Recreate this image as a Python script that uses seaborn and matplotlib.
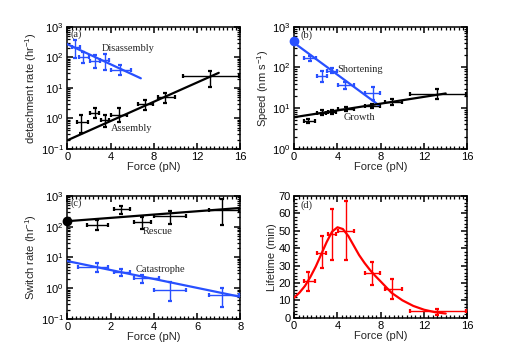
import numpy as np
import matplotlib
matplotlib.use('Agg')
import matplotlib.pyplot as plt
from matplotlib.ticker import AutoMinorLocator, LogLocator, NullFormatter
import seaborn as sns

# - data - #
# force bins (pN): centre, lower and upper edge of the x error bar
f_dis     = [0.75, 1.5, 2.6, 3.45, 4.85]
f_dis_lo  = [0.45, 1.05, 2.15, 3.05, 4.0]
f_dis_hi  = [1.2, 2.0, 3.0, 3.9, 5.85]
f_bin     = [1.3, 2.55, 3.45, 4.8, 7.2, 9.0, 13.2]
f_bin_lo  = [0.92, 2.15, 3.08, 4.03, 6.5, 8.4, 10.7]
f_bin_hi  = [1.9, 2.95, 3.88, 5.5, 7.9, 9.95, 15.9]

# (a) detachment rates (hr^-1)
dis_rate    = [222, 99, 77, 81, 38]
dis_rate_lo = [95, 63, 44, 38, 26]
dis_rate_hi = [370, 152, 118, 128, 56]
asm_rate    = [0.78, 1.46, 0.9, 1.3, 2.9, 4.9, 24]
asm_rate_lo = [0.33, 1.0, 0.53, 0.78, 1.9, 3.1, 10.5]
asm_rate_hi = [1.3, 2.15, 1.3, 2.15, 4.0, 7.0, 36]
dis_fit_x, dis_fit_y = [0, 6.8], [270, 20.5]
asm_fit_x, asm_fit_y = [0, 14], [0.19, 31]

# (b) speeds (nm/s)
shr_f       = [1.45, 2.6, 3.5, 4.7, 7.25]
shr_f_lo    = [0.92, 2.15, 3.05, 4.05, 6.5]
shr_f_hi    = [2.05, 3.05, 3.95, 5.55, 7.9]
shr_speed    = [170, 61, 84, 37, 24]
shr_speed_lo = [145, 45, 73, 30, 16]
shr_speed_hi = [195, 83, 97, 45, 34]
shr_zero = 450
grw_speed    = [4.8, 7.8, 8.0, 9.6, 11.5, 14.3, 22]
grw_speed_lo = [4.3, 6.8, 7.0, 8.5, 10.2, 12.2, 17]
grw_speed_hi = [5.3, 9.0, 9.2, 10.8, 12.8, 16.5, 29]
shr_fit_x, shr_fit_y = [0, 7.8], [400, 12]
grw_fit_x, grw_fit_y = [0, 14], [6.0, 23]

# (c) switch rates (hr^-1)
f_sw     = [1.38, 2.5, 3.46, 4.77, 7.15]
f_sw_lo  = [0.92, 2.15, 3.08, 4.03, 6.54]
f_sw_hi  = [1.88, 2.92, 3.85, 5.5, 7.92]
f_cat_lo = [0.5, 2.15, 3.08, 4.03, 6.54]
f_cat_hi = [1.88, 2.92, 4.25, 5.5, 7.92]
res_rate    = [112, 370, 143, 224, 343]
res_rate_lo = [77, 268, 87, 118, 112]
res_rate_hi = [162, 474, 208, 318, 820]
res_zero = 151
cat_rate    = [4.9, 3.3, 2.1, 0.85, 0.6]
cat_rate_lo = [3.4, 2.5, 1.45, 0.39, 0.25]
cat_rate_hi = [6.4, 4.2, 2.7, 1.55, 1.0]
res_fit_x, res_fit_y = [0, 8], [151, 408]
cat_fit_x, cat_fit_y = [0, 8], [7.6, 0.52]

# (d) lifetime (min)
life    = [21, 37.4, 48, 50, 25.7, 16.5, 3.6]
life_lo = [15.2, 28.6, 33.4, 33.4, 18.6, 10.5, 1.7]
life_hi = [26.3, 47.2, 62.3, 67.1, 32.2, 22.4, 5.2]
curve_x = [0, 0.5, 1, 1.5, 2, 2.5, 3, 3.5, 4, 4.5, 5, 5.5, 6, 6.5, 7, 7.5, 8, 9, 10, 11, 12, 13, 14]
curve_y = [11.5, 14.5, 18.3, 23.5, 29.5, 36.5, 43.5, 49.5, 52.0, 51.0, 47.0, 41.5, 36.0, 31.5, 27.5, 24.0, 20.8, 14.3, 10.0, 6.8, 4.6, 3.2, 2.4]

# - style - #
sns.set_style('ticks', {'xtick.direction': 'in', 'ytick.direction': 'in',
                        'axes.edgecolor': 'black', 'xtick.color': 'black',
                        'ytick.color': 'black'})
plt.rcParams['font.family'] = ['Liberation Sans', 'DejaVu Sans']
plt.rcParams['mathtext.default'] = 'regular'
plt.rcParams['font.size'] = 8
plt.rcParams['axes.linewidth'] = 1.1

BLUE = '#2850ff'
RED = '#ff0000'
SERIF = 'Liberation Serif'

fig = plt.figure(figsize=(5.17, 3.57), dpi=100)
ax_a = fig.add_axes([0.13, 0.583, 0.335, 0.342])
ax_b = fig.add_axes([0.569, 0.583, 0.335, 0.342])
ax_c = fig.add_axes([0.13, 0.107, 0.335, 0.344])
ax_d = fig.add_axes([0.569, 0.110, 0.335, 0.341])


def ebar(ax, x, xlo, xhi, y, ylo, yhi, color):
    x = np.array(x); y = np.array(y)
    xerr = [x - np.array(xlo), np.array(xhi) - x]
    yerr = [y - np.array(ylo), np.array(yhi) - y]
    ax.errorbar(x, y, xerr=xerr, yerr=yerr, fmt='none', ecolor=color,
                elinewidth=1.0, capsize=1.3, capthick=1.6, zorder=3)


def fitline(ax, x, y, color):
    sns.lineplot(x=x, y=y, ax=ax, color=color, linewidth=1.6, sort=False, zorder=4)


def style(ax, xmax, ylog=True):
    ax.set_xlim(0, xmax)
    if ylog:
        ax.set_yscale('log')
        ax.yaxis.set_minor_locator(LogLocator(base=10, subs=np.arange(2, 10)))
        ax.yaxis.set_minor_formatter(NullFormatter())
    ax.xaxis.set_minor_locator(AutoMinorLocator(10))
    ax.set_xlabel('Force (pN)', fontsize=8, labelpad=0)


def ticks(ax):
    ax.tick_params(which='both', direction='in', top=True, right=True, color='black')
    ax.tick_params(which='major', length=4.5, width=1.1, labelsize=8, pad=2.5)
    ax.tick_params(which='minor', length=2.2, width=0.9)


# (a)
ebar(ax_a, f_dis, f_dis_lo, f_dis_hi, dis_rate, dis_rate_lo, dis_rate_hi, BLUE)
ebar(ax_a, f_bin, f_bin_lo, f_bin_hi, asm_rate, asm_rate_lo, asm_rate_hi, 'black')
fitline(ax_a, dis_fit_x, dis_fit_y, BLUE)
fitline(ax_a, asm_fit_x, asm_fit_y, 'black')
ax_a.set_xticks([0, 4, 8, 12, 16])
style(ax_a, 16)
ax_a.set_ylim(0.1, 1000)
ax_a.set_ylabel('detachment rate (hr$^{-1}$)', fontsize=8, labelpad=1)
ax_a.text(0.3, 560, '(a)', family=SERIF, fontsize=7.5, va='center')
ax_a.text(3.2, 200, 'Disassembly', family=SERIF, fontsize=7.5, va='center')
ax_a.text(4.0, 0.45, 'Assembly', family=SERIF, fontsize=7.5, va='center')

# (b)
ebar(ax_b, shr_f, shr_f_lo, shr_f_hi, shr_speed, shr_speed_lo, shr_speed_hi, BLUE)
ebar(ax_b, f_bin, f_bin_lo, f_bin_hi, grw_speed, grw_speed_lo, grw_speed_hi, 'black')
fitline(ax_b, shr_fit_x, shr_fit_y, BLUE)
fitline(ax_b, grw_fit_x, grw_fit_y, 'black')
ax_b.plot([0], [shr_zero], 'o', color=BLUE, ms=6, clip_on=False, zorder=5)
ax_b.set_xticks([0, 4, 8, 12, 16])
style(ax_b, 16)
ax_b.set_ylim(1, 1000)
ax_b.set_ylabel('Speed (nm s$^{-1}$)', fontsize=8, labelpad=1)
ax_b.text(0.55, 620, '(b)', family=SERIF, fontsize=7.5, va='center')
ax_b.text(4.0, 90, 'Shortening', family=SERIF, fontsize=7.5, va='center')
ax_b.text(4.6, 6.0, 'Growth', family=SERIF, fontsize=7.5, va='center')

# (c)
ebar(ax_c, f_sw, f_sw_lo, f_sw_hi, res_rate, res_rate_lo, res_rate_hi, 'black')
ebar(ax_c, f_sw, f_cat_lo, f_cat_hi, cat_rate, cat_rate_lo, cat_rate_hi, BLUE)
fitline(ax_c, res_fit_x, res_fit_y, 'black')
fitline(ax_c, cat_fit_x, cat_fit_y, BLUE)
ax_c.plot([0], [res_zero], 'o', color='black', ms=6, clip_on=False, zorder=5)
ax_c.set_xticks([0, 2, 4, 6, 8])
style(ax_c, 8)
ax_c.set_ylim(0.1, 1000)
ax_c.set_ylabel('Switch rate (hr$^{-1}$)', fontsize=8, labelpad=1)
ax_c.text(0.15, 600, '(c)', family=SERIF, fontsize=7.5, va='center')
ax_c.text(3.5, 68, 'Rescue', family=SERIF, fontsize=7.5, va='center')
ax_c.text(3.15, 4.0, 'Catastrophe', family=SERIF, fontsize=7.5, va='center')

# (d)
ebar(ax_d, f_bin, f_bin_lo, f_bin_hi, life, life_lo, life_hi, RED)
fitline(ax_d, curve_x, curve_y, RED)
ax_d.set_xticks([0, 4, 8, 12, 16])
ax_d.set_yticks(range(0, 71, 10))
style(ax_d, 16, ylog=False)
ax_d.yaxis.set_minor_locator(AutoMinorLocator(5))
ax_d.set_ylim(0, 70)
ax_d.set_ylabel('Lifetime (min)', fontsize=8, labelpad=1)
ax_d.text(0.55, 64.5, '(d)', family=SERIF, fontsize=7.5, va='center')

for ax in [ax_a, ax_b, ax_c, ax_d]:
    ticks(ax)

fig.savefig('out.png', dpi=100)
